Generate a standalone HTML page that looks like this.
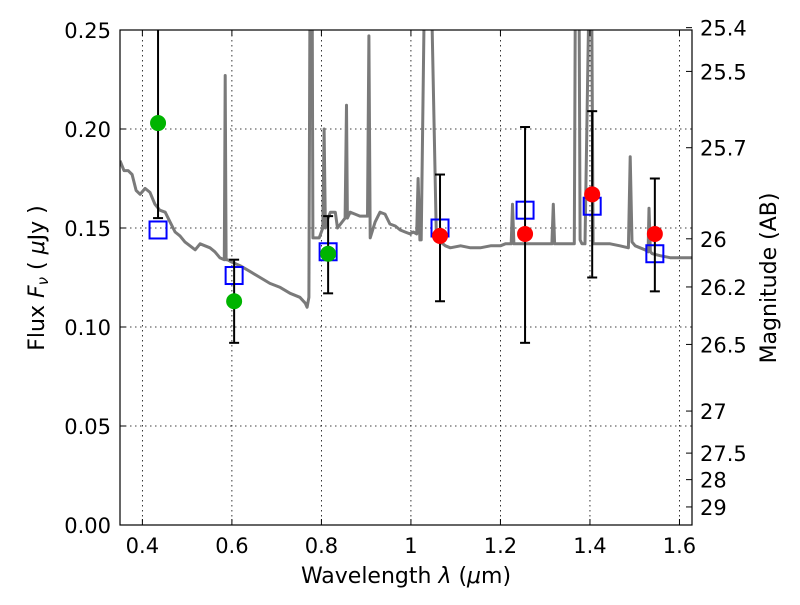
<!DOCTYPE html>
<html><head><meta charset="utf-8"><style>
body{margin:0;background:#fff;}
svg text{font-family:"DejaVu Sans","Liberation Sans",sans-serif;}
</style></head><body>
<svg id="chart" width="800" height="600" xmlns="http://www.w3.org/2000/svg"></svg>
<script>
// spectrum data
const specWl=[0.350,0.359,0.368,0.377,0.386,0.395,0.406,0.417,0.428,0.439,0.451,0.462,0.473,0.484,0.495,0.518,0.529,0.540,0.551,0.562,0.573,0.583,0.585,0.587,0.590,0.598,0.618,0.641,0.663,0.685,0.708,0.730,0.752,0.764,0.768,0.772,0.775,0.779,0.781,0.788,0.795,0.803,0.806,0.809,0.813,0.820,0.831,0.836,0.853,0.856,0.858,0.864,0.875,0.886,0.903,0.906,0.909,0.920,0.931,0.942,0.953,0.965,0.976,0.987,0.998,1.005,1.013,1.016,1.020,1.023,1.032,1.043,1.057,1.066,1.077,1.088,1.111,1.133,1.155,1.178,1.200,1.211,1.218,1.224,1.227,1.230,1.233,1.256,1.312,1.315,1.318,1.321,1.324,1.344,1.356,1.365,1.368,1.375,1.378,1.382,1.389,1.400,1.403,1.407,1.414,1.423,1.445,1.467,1.486,1.490,1.494,1.501,1.512,1.523,1.530,1.532,1.535,1.539,1.557,1.579,1.602,1.628];
const specFlux=[0.184,0.179,0.179,0.177,0.169,0.167,0.170,0.168,0.162,0.159,0.158,0.153,0.148,0.146,0.143,0.139,0.142,0.141,0.140,0.138,0.135,0.134,0.227,0.134,0.134,0.133,0.131,0.128,0.125,0.122,0.120,0.117,0.115,0.112,0.110,0.115,0.30,0.30,0.145,0.145,0.145,0.150,0.200,0.150,0.154,0.158,0.158,0.150,0.155,0.212,0.155,0.158,0.157,0.156,0.156,0.247,0.145,0.153,0.158,0.157,0.152,0.151,0.149,0.148,0.147,0.148,0.147,0.175,0.144,0.144,0.30,0.30,0.144,0.143,0.141,0.140,0.141,0.140,0.140,0.141,0.141,0.142,0.142,0.142,0.162,0.142,0.142,0.142,0.142,0.142,0.162,0.142,0.142,0.142,0.142,0.142,0.30,0.30,0.144,0.142,0.142,0.30,0.30,0.142,0.142,0.142,0.142,0.141,0.140,0.186,0.143,0.141,0.140,0.139,0.138,0.160,0.138,0.137,0.136,0.135,0.135,0.135];
// photometry
const photWl=[0.435,0.605,0.815,1.065,1.255,1.405,1.545];
const photFlux=[0.203,0.113,0.137,0.146,0.147,0.167,0.147];
const errLow=[0.155,0.092,0.117,0.113,0.092,0.125,0.118];
const errHigh=[0.30,0.134,0.156,0.177,0.201,0.209,0.175];
const photColor=['#00b400','#00b400','#00b400','#ff0000','#ff0000','#ff0000','#ff0000'];
const modelFlux=[0.149,0.126,0.138,0.150,0.159,0.161,0.137];
const xTicks=[0.4,0.6,0.8,1.0,1.2,1.4,1.6];
const xTickLabels=['0.4','0.6','0.8','1','1.2','1.4','1.6'];
const yTicks=[0,0.05,0.10,0.15,0.20,0.25];
const yTickLabels=['0.00','0.05','0.10','0.15','0.20','0.25'];
const magTicks=[25.4,25.5,25.7,26,26.2,26.5,27,27.5,28,29];
const magLabels=['25.4','25.5','25.7','26','26.2','26.5','27','27.5','28','29'];

const L=120,R=692,T=30,B=525,X0=0.35,X1=1.628,Y0=0,Y1=0.25;
const sx=v=>L+(v-X0)/(X1-X0)*(R-L);
const sy=v=>B-(v-Y0)/(Y1-Y0)*(B-T);
const svg=document.getElementById('chart');
const NS='http://www.w3.org/2000/svg';
function mk(tag,attrs,parent){const e=document.createElementNS(NS,tag);for(const k in attrs)e.setAttribute(k,attrs[k]);(parent||svg).appendChild(e);return e;}

const defs=mk('defs',{});const cp=mk('clipPath',{id:'clip'},defs);mk('rect',{x:L,y:T,width:R-L,height:B-T},cp);

// grid
const grid=mk('g',{});


xTicks.forEach(v=>mk('line',{x1:sx(v),x2:sx(v),y1:T,y2:B,stroke:'#000','stroke-width':0.8,'stroke-dasharray':'1.5,3.5'},grid));
yTicks.forEach(v=>mk('line',{x1:L,x2:R,y1:sy(v),y2:sy(v),stroke:'#000','stroke-width':0.8,'stroke-dasharray':'1.5,3.5'},grid));

// spectrum
const pts=specWl.map((w,i)=>sx(w).toFixed(1)+','+sy(specFlux[i]).toFixed(1)).join(' ');
const spec=mk('polyline',{points:pts,fill:'none',stroke:'#7a7a7a','stroke-width':3,'stroke-linejoin':'round','clip-path':'url(#clip)'});



const marks=mk('g',{'clip-path':'url(#clip)'});
// model squares
photWl.forEach((w,i)=>{
  const s=mk('rect',{x:sx(w)-8.5,y:sy(modelFlux[i])-8.5,width:17,height:17,fill:'none',stroke:'#0000ff','stroke-width':2},marks);
  
  
});
// error bars
photWl.forEach((w,i)=>{
  const g=mk('g',{},marks);
  
  
  const x=sx(w);
  mk('line',{x1:x,x2:x,y1:sy(errLow[i]),y2:sy(errHigh[i]),stroke:'#000','stroke-width':2},g);
  mk('line',{x1:x-5,x2:x+5,y1:sy(errLow[i]),y2:sy(errLow[i]),stroke:'#000','stroke-width':2},g);
  mk('line',{x1:x-5,x2:x+5,y1:sy(errHigh[i]),y2:sy(errHigh[i]),stroke:'#000','stroke-width':2},g);
});
// circles
photWl.forEach((w,i)=>{
  const c=mk('circle',{cx:sx(w),cy:sy(photFlux[i]),r:8,fill:photColor[i]},marks);
  
  
});

// frame
const fr=mk('rect',{x:L,y:T,width:R-L,height:B-T,fill:'none',stroke:'#000','stroke-width':1.2});



// x ticks
xTicks.forEach((v,i)=>{
  mk('line',{x1:sx(v),x2:sx(v),y1:B,y2:B-6,stroke:'#000'});
  mk('line',{x1:sx(v),x2:sx(v),y1:T,y2:T+6,stroke:'#000'});
  const t=mk('text',{x:sx(v),y:B+28,'font-size':21,'text-anchor':'middle'});t.textContent=xTickLabels[i];
  
  
});
yTicks.forEach((v,i)=>{
  mk('line',{x1:L,x2:L+6,y1:sy(v),y2:sy(v),stroke:'#000'});
  const t=mk('text',{x:L-9,y:sy(v)+8,'font-size':21,'text-anchor':'end'});t.textContent=yTickLabels[i];
  
  
});
magTicks.forEach((m,i)=>{
  const f=Math.pow(10,(23.9-m)/2.5);const y=sy(f);
  mk('line',{x1:R,x2:R-6,y1:y,y2:y,stroke:'#000'});
  const t=mk('text',{x:R+8,y:y+8,'font-size':21,'text-anchor':'start'});t.textContent=magLabels[i];
  
  
});

// axis titles
const xt=mk('text',{x:406,y:583,'font-size':22,'text-anchor':'middle'});
xt.innerHTML='Wavelength  <tspan font-style="italic">λ</tspan> (<tspan font-style="italic">μ</tspan>m)';
xt.setAttribute('xml:space','preserve');


const yt=mk('text',{x:0,y:0,'font-size':22,'text-anchor':'middle',transform:'translate(44,278) rotate(-90)'});
yt.innerHTML='Flux  <tspan font-style="italic">F</tspan><tspan font-style="italic" font-size="15" dy="4">ν</tspan><tspan dy="-4">  (  </tspan><tspan font-style="italic">μ</tspan>Jy )';
yt.setAttribute('xml:space','preserve');


const rt=mk('text',{x:0,y:0,'font-size':22,'text-anchor':'middle',transform:'translate(776,278) rotate(-90)'});
rt.textContent='Magnitude (AB)';


</script>
</body></html>
